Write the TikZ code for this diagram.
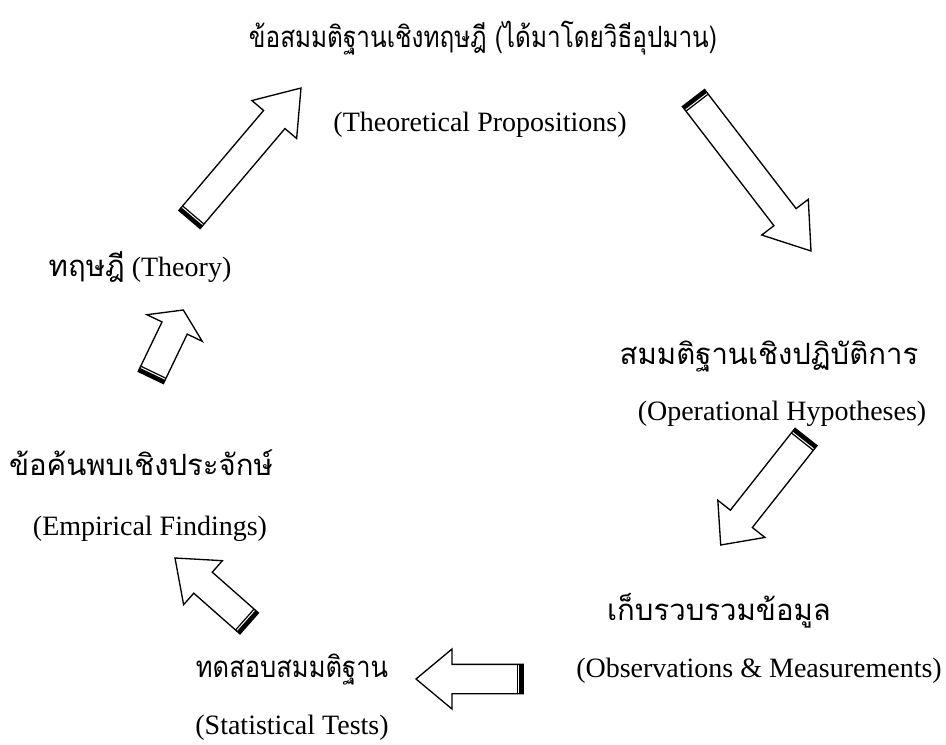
\documentclass[tikz,border=0pt]{standalone}
\usepackage{fontspec}
\setmainfont{Liberation Serif}
\newfontfamily\thaifont[Script=Thai]{Loma}
\newfontfamily\thaititle[Script=Thai,FakeStretch=0.83]{Loma}
\newfontfamily\thaistat[Script=Thai,FakeStretch=0.87]{Loma}
\usetikzlibrary{calc}
\newcommand\thsz[1]{\fontsize{#1}{#1}\selectfont}
% #1 name, #2 tail centre, #3 tip, #4 half shaft width, #5 half head width, #6 head length
\newcommand\blockarrowat[6]{%
  \coordinate (#1-T) at #2;
  \coordinate (#1-tip) at #3;
  \coordinate (#1-N) at ($(#1-tip)!#6!(#1-T)$);
  \coordinate (#1-t1) at ($(#1-T)!#4!90:(#1-tip)$);
  \coordinate (#1-t2) at ($(#1-T)!#4!-90:(#1-tip)$);
  \coordinate (#1-n1) at ($(#1-N)!#4!90:(#1-tip)$);
  \coordinate (#1-n2) at ($(#1-N)!#4!-90:(#1-tip)$);
  \coordinate (#1-b1) at ($(#1-N)!#5!90:(#1-tip)$);
  \coordinate (#1-b2) at ($(#1-N)!#5!-90:(#1-tip)$);
  \draw[blockarrow] (#1-t1) -- (#1-n1) -- (#1-b1) -- (#1-tip) -- (#1-b2) -- (#1-n2) -- (#1-t2) -- cycle;
  \draw[tailband] ($(#1-t1)!1.5pt!(#1-n1)$) -- ($(#1-t2)!1.5pt!(#1-n2)$);
  \draw[tailline] ($(#1-t1)!4.4pt!(#1-n1)$) -- ($(#1-t2)!4.4pt!(#1-n2)$);
}
\begin{document}
\begin{tikzpicture}[x=0.75pt,y=-0.75pt,
  blockarrow/.style={draw=black,line width=1pt,fill=white,line join=miter},
  tailband/.style={line width=3pt},
  tailline/.style={line width=0.9pt},
  en/.style={font=\fontsize{21pt}{25pt}\selectfont,anchor=base,inner sep=0pt},
  th/.style={font=\thaifont,anchor=base,inner sep=0pt}]
\useasboundingbox (0,0) rectangle (946,745);

% text
\node[th] (title) at (483,48) {\thaititle\thsz{22pt}ข้อสมมติฐานเชิงทฤษฎี (ได้มาโดยวิธีอุปมาน)};
\node[en] (theoprop) at (480,132) {(Theoretical Propositions)};
\node[en] (theory) at (140,277) {{\thaifont\thsz{22pt}ทฤษฎี} (Theory)};
\node[th] (ophyp) at (769,364) {\thsz{22pt}สมมติฐานเชิงปฏิบัติการ};
\node[en] (ophypen) at (782,420) {(Operational Hypotheses)};
\node[th] (empf) at (141,475) {\thsz{22pt}ข้อค้นพบเชิงประจักษ์};
\node[en] (empfen) at (150,535) {(Empirical Findings)};
\node[th] (obs) at (719,620) {\thsz{22pt}เก็บรวบรวมข้อมูล};
\node[en] (obsen) at (759,677) {(Observations \& Measurements)};
\node[th] (stat) at (292,677) {\thaistat\thsz{22pt}ทดสอบสมมติฐาน};
\node[en] (staten) at (292,734) {(Statistical Tests)};

% arrows
\blockarrowat{a1}{(189.5,219.5)}{(301,88)}{10.5pt}{22pt}{31pt}
\blockarrowat{a2}{(693.5,98)}{(811,251)}{10.5pt}{22pt}{32pt}
\blockarrowat{a3}{(806,437)}{(720.7,545)}{10.5pt}{22.5pt}{25pt}
\blockarrowat{a4}{(523.3,679)}{(416,679)}{11pt}{22.5pt}{27pt}
\blockarrowat{a5}{(150.8,377.5)}{(183.3,310)}{10.5pt}{23pt}{15pt}
\blockarrowat{a6}{(249.2,623.4)}{(175,558)}{10.5pt}{22pt}{28pt}
\end{tikzpicture}
\end{document}
